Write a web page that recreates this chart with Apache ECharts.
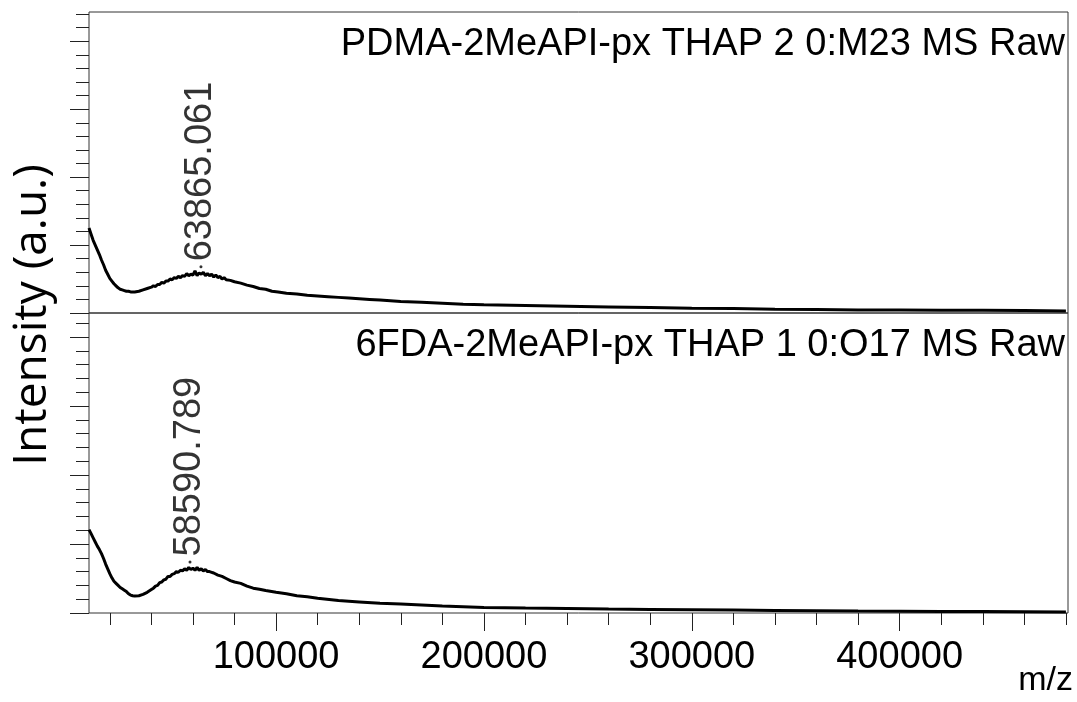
<!DOCTYPE html>
<html><head><meta charset="utf-8">
<script src="https://cdn.jsdelivr.net/npm/echarts@6/dist/echarts.min.js"></script>
<style>html,body{margin:0;padding:0;background:#fff}#c{width:1077px;height:702px}</style>
</head><body><div id="c"></div>
<script>
// ---- data ----
const topMz  = [10000,11000,12000,13000,14000,15000,16000,17000,18000,19000,20000,21000,22000,23000,24000,25000,26000,27000,28000,29000,30000,32000,34000,36000,38000,40000,41000,42000,43000,44000,45000,46000,47000,48000,49000,50000,51000,52000,53000,54000,55000,56000,57000,58000,59000,60000,61000,62000,63000,64000,65000,66000,67000,68000,69000,70000,71000,72000,73000,74000,75000,76000,78000,80000,83000,86000,89000,92000,95000,98000,101000,105000,110000,115000,120000,125000,130000,135000,140000,145000,150000,160000,170000,180000,190000,200000,220000,240000,260000,280000,300000,320000,340000,360000,380000,400000,420000,440000,460000,480000];
const topInt = [1.25,1.16,1.07,1.00,0.93,0.86,0.78,0.71,0.63,0.57,0.51,0.47,0.43,0.40,0.37,0.35,0.34,0.33,0.32,0.32,0.31,0.31,0.32,0.34,0.36,0.38,0.40,0.39,0.42,0.42,0.45,0.44,0.47,0.47,0.50,0.49,0.52,0.51,0.54,0.52,0.55,0.54,0.58,0.55,0.57,0.56,0.62,0.55,0.59,0.57,0.60,0.55,0.58,0.55,0.57,0.53,0.56,0.52,0.54,0.50,0.52,0.49,0.48,0.46,0.44,0.41,0.39,0.36,0.35,0.32,0.31,0.29,0.28,0.26,0.25,0.24,0.23,0.22,0.21,0.20,0.19,0.17,0.16,0.145,0.13,0.12,0.11,0.10,0.09,0.08,0.07,0.065,0.055,0.05,0.045,0.045,0.04,0.04,0.035,0.03];
const botMz  = [10000,11000,12000,13000,14000,15000,16000,17000,18000,19000,20000,21000,22000,23000,24000,25000,26000,27000,28000,29000,30000,31000,32000,34000,36000,38000,40000,41000,42000,43000,44000,45000,46000,47000,48000,49000,50000,51000,52000,53000,54000,55000,56000,57000,58000,59000,60000,61000,62000,63000,64000,65000,66000,67000,68000,69000,70000,72000,74000,76000,78000,80000,83000,86000,89000,92000,95000,100000,105000,110000,115000,120000,130000,140000,150000,160000,170000,180000,190000,200000,220000,240000,260000,280000,300000,320000,340000,360000,380000,400000,420000,440000,460000,480000];
const botInt = [1.21,1.15,1.09,1.03,0.97,0.92,0.86,0.79,0.71,0.64,0.57,0.51,0.46,0.43,0.40,0.37,0.35,0.33,0.31,0.28,0.26,0.25,0.245,0.25,0.27,0.30,0.34,0.36,0.39,0.40,0.44,0.45,0.48,0.49,0.53,0.53,0.56,0.57,0.60,0.59,0.62,0.61,0.64,0.62,0.66,0.63,0.65,0.62,0.66,0.62,0.64,0.61,0.63,0.60,0.60,0.59,0.58,0.55,0.53,0.50,0.47,0.45,0.43,0.39,0.36,0.345,0.325,0.30,0.28,0.25,0.235,0.215,0.18,0.16,0.14,0.13,0.115,0.10,0.09,0.08,0.072,0.065,0.058,0.052,0.047,0.042,0.037,0.032,0.028,0.025,0.022,0.02,0.018,0.015];
const topTitle = 'PDMA-2MeAPI-px THAP 2 0:M23 MS Raw';
const botTitle = '6FDA-2MeAPI-px THAP 1 0:O17 MS Raw';
const topPeak = [63865.061, 0.68];
const botPeak = [58590.789, 0.74];
const xMajorTicks = [100000,200000,300000,400000];
const xMinorTicks = [20000,40000,60000,80000,100000,120000,140000,160000,180000,200000,220000,240000,260000,280000,300000,320000,340000,360000,380000,400000,420000,440000,460000,480000];
const yMajorTicks = [0,1,2,3,4];
const yMinorTicksTop = [0,0.2,0.4,0.6,0.8,1,1.2,1.4,1.6,1.8,2,2.2,2.4,2.6,2.8,3,3.2,3.4,3.6,3.8,4,4.2,4.4];
const yMinorTicksBot = [0,0.2,0.4,0.6,0.8,1,1.2,1.4,1.6,1.8,2,2.2,2.4,2.6,2.8,3,3.2,3.4,3.6,3.8,4,4.2];
const yTitle = 'Intensity (a.u.)';
const xTitle = 'm/z';

const zip = (a, b) => a.map((v, i) => [v, b[i]]);
const X_MIN = 10000, X_MAX = 481000;
const tickColor = '#222';
const FONT = '"Liberation Sans", Arial, sans-serif';

function xAx(grid, opts) {
  return Object.assign({
    type: 'value', gridIndex: grid, min: X_MIN, max: X_MAX, position: 'bottom',
    axisLine: {show: false}, splitLine: {show: false},
    axisTick: {show: false}, axisLabel: {show: false}
  }, opts);
}
function yAx(grid, max, ticks, len) {
  return {
    type: 'value', gridIndex: grid, min: 0, max: max, position: 'left',
    axisLine: {show: false}, splitLine: {show: false}, axisLabel: {show: false},
    axisTick: {show: true, inside: false, length: len, customValues: ticks, lineStyle: {color: tickColor, width: 1}}
  };
}

const chart = echarts.init(document.getElementById('c'), null, {renderer: 'canvas'});
chart.setOption({
  animation: false,
  backgroundColor: '#fff',
  grid: [
    {left: 89, top: 12, width: 979, height: 301, show: true, borderColor: '#333', borderWidth: 1, backgroundColor: 'transparent'},
    {left: 89, top: 313, width: 979, height: 300, show: true, borderColor: '#333', borderWidth: 1, backgroundColor: 'transparent'}
  ],
  xAxis: [
    xAx(0, {}),
    xAx(1, {offset: 4,
      axisTick: {show: true, length: 18, customValues: xMajorTicks, lineStyle: {color: tickColor, width: 1}},
      axisLabel: {show: true, customValues: xMajorTicks, margin: 22, color: '#000', fontSize: 38, fontFamily: FONT,
        formatter: v => String(v)}}),
    xAx(1, {offset: 4,
      axisTick: {show: true, length: 12, customValues: xMinorTicks, lineStyle: {color: tickColor, width: 1}}})
  ],
  yAxis: [
    yAx(0, 4.43, yMinorTicksTop, 13),
    yAx(0, 4.43, yMajorTicks, 19),
    yAx(1, 4.35, yMinorTicksBot, 13),
    yAx(1, 4.35, yMajorTicks, 19)
  ],
  series: [
    {type: 'line', xAxisIndex: 0, yAxisIndex: 0, data: zip(topMz, topInt), showSymbol: false, symbol: 'none',
      lineStyle: {color: '#000', width: 3}},
    {type: 'line', xAxisIndex: 1, yAxisIndex: 2, data: zip(botMz, botInt), showSymbol: false, symbol: 'none',
      lineStyle: {color: '#000', width: 3}},
    {type: 'scatter', xAxisIndex: 0, yAxisIndex: 0, data: [topPeak], symbolSize: 3, itemStyle: {color: '#000'},
      label: {show: true, position: 'top', distance: 4, rotate: 90, align: 'left', verticalAlign: 'middle',
        color: '#000', fontSize: 38, fontFamily: FONT, formatter: p => p.value[0].toFixed(3)}},
    {type: 'scatter', xAxisIndex: 1, yAxisIndex: 2, data: [botPeak], symbolSize: 3, itemStyle: {color: '#000'},
      label: {show: true, position: 'top', distance: 4, rotate: 90, align: 'left', verticalAlign: 'middle',
        color: '#000', fontSize: 38, fontFamily: FONT, formatter: p => p.value[0].toFixed(3)}}
  ],
  graphic: [
    {type: 'text', x: 1065, y: 45, style: {text: topTitle, font: '38px ' + FONT, fill: '#000', textAlign: 'right', textVerticalAlign: 'middle'}},
    {type: 'text', x: 1065, y: 346, style: {text: botTitle, font: '38px ' + FONT, fill: '#000', textAlign: 'right', textVerticalAlign: 'middle'}},
    {type: 'text', x: 33, y: 315, rotation: Math.PI / 2, style: {text: yTitle, font: '46px "Open Sans", sans-serif', fill: '#000', textAlign: 'center', textVerticalAlign: 'middle'}},
    {type: 'text', x: 1073, y: 681, style: {text: xTitle, font: '34px ' + FONT, fill: '#000', textAlign: 'right', textVerticalAlign: 'middle'}}
  ]
});
</script></body></html>
